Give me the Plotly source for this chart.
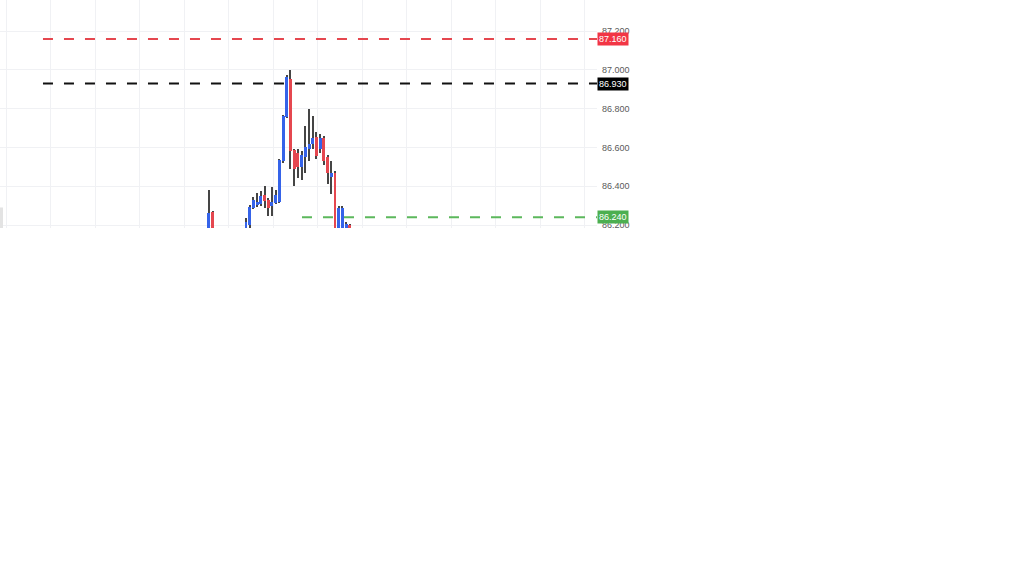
import plotly.graph_objects as go

# ---- data (5-min style candles, index = candle slot) ----
idx = list(range(-10, 29))
opens = [86.10, 86.267, 86.14, 86.12, 86.10, 86.08, 86.09, 86.11, 86.12, 86.14,
         86.15, 86.20, 86.29, 86.305, 86.31, 86.355, 86.33, 86.30, 86.315, 86.32,
         86.53, 86.755, 86.955, 86.585, 86.57, 86.50, 86.55, 86.59, 86.62, 86.655,
         86.59, 86.65, 86.55, 86.45, 86.47, 86.10, 86.12, 86.15, 86.20]
highs = [86.381, 86.272, 86.16, 86.15, 86.13, 86.12, 86.13, 86.14, 86.15, 86.17,
         86.236, 86.303, 86.345, 86.365, 86.375, 86.40, 86.34, 86.396, 86.38, 86.54,
         86.77, 86.975, 87.00, 86.59, 86.59, 86.58, 86.71, 86.80, 86.76, 86.68,
         86.67, 86.66, 86.56, 86.53, 86.48, 86.30, 86.30, 86.215, 86.205]
lows = [86.05, 86.10, 86.08, 86.06, 86.04, 86.03, 86.05, 86.07, 86.09, 86.11,
        86.10, 86.17, 86.28, 86.295, 86.30, 86.288, 86.245, 86.245, 86.31, 86.315,
        86.52, 86.75, 86.49, 86.40, 86.44, 86.43, 86.47, 86.53, 86.59, 86.54,
        86.57, 86.51, 86.41, 86.36, 86.05, 86.05, 86.10, 86.10, 86.10]
closes = [86.262, 86.15, 86.12, 86.10, 86.08, 86.09, 86.11, 86.12, 86.14, 86.15,
          86.215, 86.293, 86.33, 86.318, 86.35, 86.325, 86.29, 86.32, 86.355, 86.535,
          86.76, 86.965, 86.58, 86.49, 86.50, 86.56, 86.60, 86.62, 86.65, 86.555,
          86.65, 86.53, 86.47, 86.47, 86.10, 86.29, 86.29, 86.205, 86.15]

level_prices = [87.160, 86.930, 86.240]
level_labels = ["87.160", "86.930", "86.240"]
level_colors = ["#e5474f", "#111111", "#5cb85c"]
level_box_colors = ["#f23645", "#000000", "#4caf50"]
level_starts = [-54.75, -54.75, 15.1]

y_ticks = [86.2, 86.4, 86.6, 86.8, 87.0, 87.2]
y_ticktext = ["86.200", "86.400", "86.600", "86.800", "87.000", "87.200"]

UP = "#3563e9"
DOWN = "#e5474f"
WICK = "#454545"

fig = go.Figure()

# wicks (thin bars, drawn first so bodies sit on top)
fig.add_trace(go.Bar(x=idx, y=[h - l for h, l in zip(highs, lows)], base=lows,
                     marker_color=WICK, marker_line_width=0, width=0.27,
                     hoverinfo="skip", showlegend=False))

# bodies
bases = [min(o, c) for o, c in zip(opens, closes)]
heights = [max(abs(c - o), 0.002) for o, c in zip(opens, closes)]
colors = [UP if c >= o else DOWN for o, c in zip(opens, closes)]
fig.add_trace(go.Bar(x=idx, y=heights, base=bases, marker_color=colors,
                     marker_line_width=0, width=0.8, showlegend=False))

# horizontal levels
for p, lab, lc, bc, xs in zip(level_prices, level_labels, level_colors,
                              level_box_colors, level_starts):
    fig.add_shape(type="line", xref="x", yref="y", x0=xs, x1=94.66, y0=p, y1=p,
                  line=dict(color=lc, width=2, dash="10px,11px"))
    fig.add_annotation(xref="paper", yref="y", x=1, y=p, xanchor="left",
                       yanchor="middle", text=lab, showarrow=False,
                       bgcolor=bc, borderpad=1,
                       font=dict(color="white", size=9, family="Liberation Sans"))

# small gray scroll handle artifact at left edge
fig.add_shape(type="rect", xref="paper", yref="paper", x0=-0.002, x1=0.005,
              y0=0, y1=0.09, fillcolor="#e3e3e3", line_width=0, layer="above")

fig.update_layout(
    width=1024, height=576,
    margin=dict(l=0, r=427, t=0, b=348),
    paper_bgcolor="white", plot_bgcolor="white",
    barmode="overlay", bargap=0, showlegend=False,
    xaxis=dict(range=[-66.34, 94.66], showticklabels=False, ticks="",
               showgrid=True, gridcolor="#f0f1f4", gridwidth=1,
               tick0=-64.59, dtick=12, zeroline=False, showline=False,
               fixedrange=True),
    yaxis=dict(range=[86.1845, 87.361], side="right", tickvals=y_ticks,
               ticktext=y_ticktext, showgrid=True, gridcolor="#f0f1f4",
               gridwidth=1, zeroline=False, showline=False, ticks="",
               tickfont=dict(size=9, color="#5a5a5a", family="Liberation Sans"),
               ticklabelstandoff=4),
)

fig.write_html("out.html", config={"displayModeBar": False},
               post_script="document.body.style.margin='0';document.body.style.padding='0';")
